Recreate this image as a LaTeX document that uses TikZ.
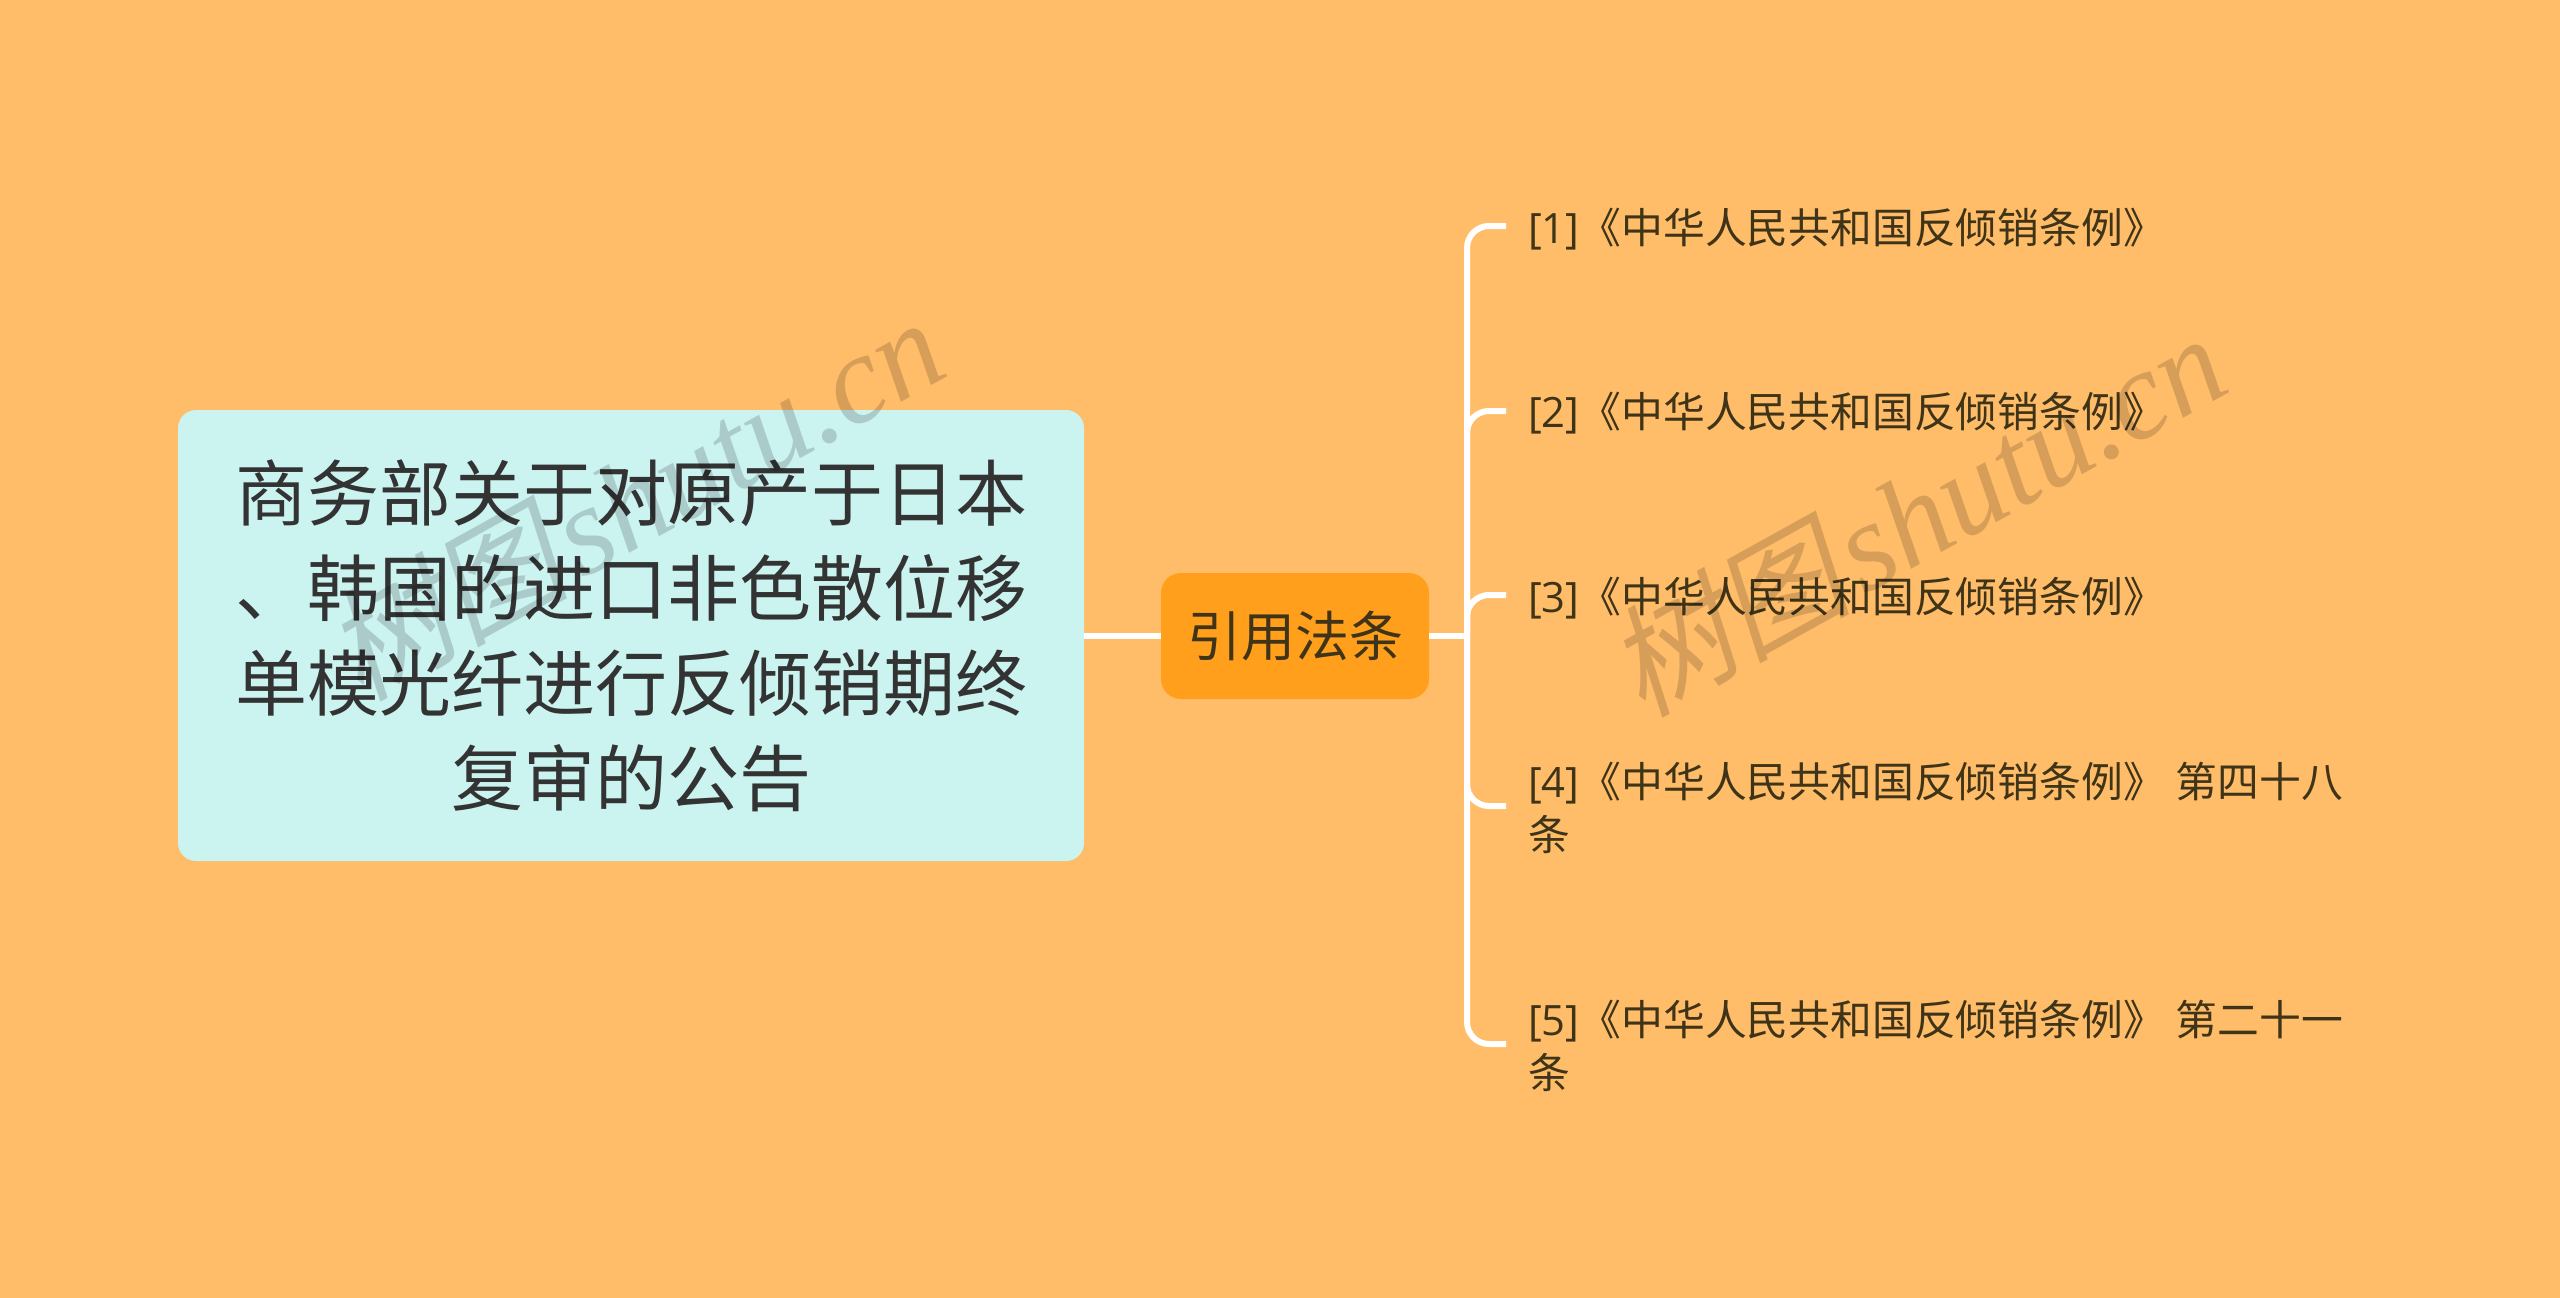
\documentclass[tikz,border=0pt]{standalone}
\usepackage{fontspec}
\setmainfont{Open Sans}
\newfontfamily\cjk{Noto Sans CJK SC}
\newfontfamily\wmcjk[FakeSlant=0.2]{Noto Sans CJK SC}
\newfontfamily\wmlat{Liberation Serif}
\definecolor{bg}{HTML}{FFBD69}
\definecolor{mainfill}{HTML}{CBF3F0}
\definecolor{subfill}{HTML}{FF9F1C}
\definecolor{maintext}{HTML}{333333}
\definecolor{itemtext}{HTML}{3F3418}
\tikzset{
  x=1pt,y=-1pt,
  mainbox/.style={fill=mainfill,rounded corners=18pt,minimum width=906pt,minimum height=451pt,inner sep=0pt,align=center,text=maintext,font=\cjk\fontsize{72}{95}\selectfont},
  subbox/.style={fill=subfill,rounded corners=20pt,minimum width=268pt,minimum height=126pt,inner sep=0pt,text=itemtext,font=\cjk\fontsize{54}{60}\selectfont},
  item/.style={anchor=west,inner sep=0pt,align=left,text=itemtext,font=\cjk\fontsize{41.8}{53}\selectfont},
  link/.style={draw=white,line width=6pt},
  branch/.style={draw=white,line width=6pt,rounded corners=22pt},
  mark text/.style={rotate=29,text=black,text opacity=0.16,inner sep=0pt},
}
\newcommand{\ltn}[1]{{\rmfamily #1}}
\newcommand{\wmark}{{\wmcjk\fontsize{122}{130}\selectfont 树图}\kern10pt{\wmlat\itshape\fontsize{126}{140}\selectfont shutu.cn}}
\begin{document}
\begin{tikzpicture}
\path[use as bounding box,fill=bg] (0,0) rectangle (2560,1298);
\node[mainbox] (main) at (631,635.5) {商务部关于对原产于日本\\、韩国的进口非色散位移\\单模光纤进行反倾销期终\\复审的公告};
\node[subbox] (sub) at (1295,636) {引用法条};
\coordinate (trunk) at (1467,636);
\coordinate (b1) at (1506,226);
\coordinate (b2) at (1506,411);
\coordinate (b3) at (1506,595);
\coordinate (b4) at (1506,806);
\coordinate (b5) at (1506,1044);
\draw[link] (main.east |- trunk) -- (sub.west |- trunk);
\draw[link] (sub.east |- trunk) -- (trunk);
\foreach \b in {b1,b2,b3,b4,b5} \draw[branch] (trunk) |- (\b);
\node[item] (i1) at (1528,229) {\ltn{[1]}《中华人民共和国反倾销条例》};
\node[item] (i2) at (1528,413) {\ltn{[2]}《中华人民共和国反倾销条例》};
\node[item] (i3) at (1528,598) {\ltn{[3]}《中华人民共和国反倾销条例》};
\node[item] (i4) at (1528,808) {\ltn{[4]}《中华人民共和国反倾销条例》\ltn{\ }第四十八\\条};
\node[item] (i5) at (1528,1046) {\ltn{[5]}《中华人民共和国反倾销条例》\ltn{\ }第二十一\\条};
\node[mark text] (w1) at (634,498) {\wmark};
\node[mark text] (w2) at (1916,514) {\wmark};
\end{tikzpicture}
\end{document}
